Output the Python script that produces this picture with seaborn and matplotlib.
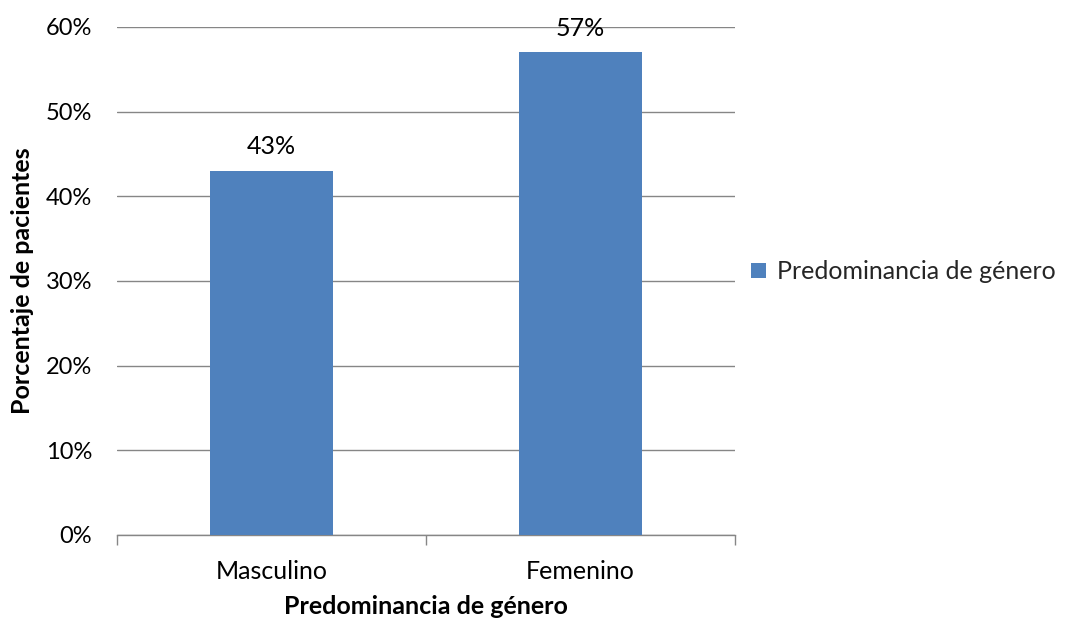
import matplotlib
matplotlib.use('Agg')
import matplotlib.pyplot as plt
import pandas as pd
import seaborn as sns
from matplotlib.patches import Patch
from matplotlib.ticker import PercentFormatter, FixedLocator

# Data
categories = ['Masculino', 'Femenino']
percentages = [43, 57]
series_name = 'Predominancia de género'

df = pd.DataFrame({'genero': categories, 'valor': percentages})

sns.set_style('white')
plt.rcParams['font.family'] = ['Lato', 'DejaVu Sans']

bar_color = '#4F81BD'
grid_color = '#868686'
text_color = '#000000'
fs = 18

fig = plt.figure(figsize=(10.8, 6.22), dpi=100)
ax = fig.add_axes([0.1083, 0.1399, 0.5723, 0.8167])

sns.barplot(data=df, x='genero', y='valor', order=categories, color=bar_color,
            width=0.4, saturation=1, ax=ax, zorder=3, edgecolor='none', linewidth=0)

# Data labels
for container in ax.containers:
    ax.bar_label(container, labels=[f'{v}%' for v in percentages],
                 padding=9, fontsize=fs, color=text_color)

# Axes
ax.set_ylim(0, 60)
ax.set_xlim(-0.5, 1.5)
ax.set_yticks(range(0, 61, 10))
ax.yaxis.set_major_formatter(PercentFormatter(decimals=0))
ax.grid(axis='y', color=grid_color, linewidth=1, zorder=0)
ax.grid(axis='x', visible=False)

for side in ['top', 'right', 'left']:
    ax.spines[side].set_visible(False)
ax.spines['bottom'].set_color(grid_color)
ax.spines['bottom'].set_linewidth(1)

ax.tick_params(axis='y', length=0, pad=18, labelsize=17, colors=text_color)
ax.tick_params(axis='x', which='major', length=0, pad=18, labelsize=fs,
               colors=text_color)
ax.xaxis.set_minor_locator(FixedLocator([-0.5, 0.5, 1.5]))
ax.tick_params(axis='x', which='minor', bottom=True, length=7, width=1,
               color=grid_color, direction='out')

ax.set_xlabel('Predominancia de género', fontsize=fs, fontweight='bold',
              labelpad=9, color=text_color)
ax.set_ylabel('Porcentaje de pacientes', fontsize=fs, fontweight='bold',
              labelpad=8, color=text_color)

# Legend
handles = [Patch(facecolor=bar_color, edgecolor='none', label=series_name)]
fig.legend(handles=handles, loc='center left', bbox_to_anchor=(0.684, 0.563),
           frameon=False, fontsize=fs, handlelength=0.6, handleheight=0.6,
           handletextpad=0.45, borderpad=0)

fig.savefig('out.png', dpi=100)
